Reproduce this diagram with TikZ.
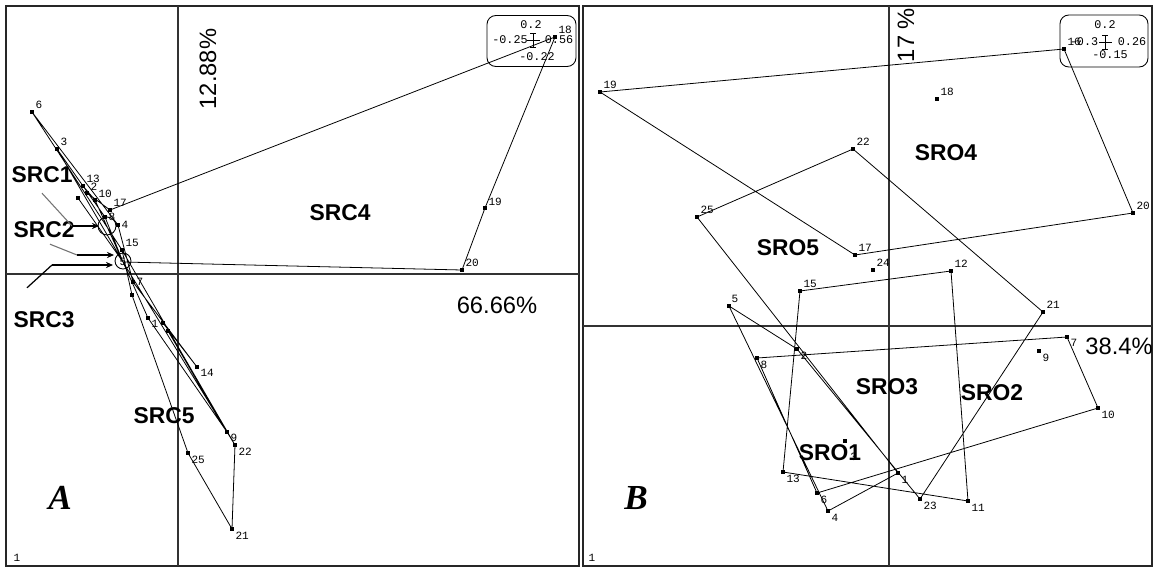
\documentclass[tikz,border=0pt]{standalone}
\usepackage{fontspec}
\setmainfont{Liberation Serif}
\setsansfont{Liberation Sans}
\setmonofont{Liberation Mono}
\usetikzlibrary{arrows.meta}
\newcommand\pnt[4]{\node[pt,label={[lab]#4:#3}] (#1) at (#2) {};}
\newcommand\pnq[2]{\node[pt] (#1) at (#2) {};}
\begin{document}
\begin{tikzpicture}[x=0.02cm,y=-0.02cm,
 pt/.style={rectangle,fill=black,inner sep=0pt,minimum size=1.8pt},
 lab/.style={font=\ttfamily\fontsize{6.3}{7}\selectfont,inner sep=0.7pt},
 edge/.style={line width=0.45pt,black},
 axis/.style={line width=0.6pt,black!80},
 frame/.style={line width=1.1pt,black!85},
 grp/.style={font=\sffamily\bfseries\fontsize{13}{15}\selectfont,inner sep=1pt},
 pct/.style={font=\sffamily\fontsize{13.5}{15}\selectfont,inner sep=0pt},
 plab/.style={font=\bfseries\itshape\fontsize{20}{22}\selectfont,inner sep=0pt},
 boxt/.style={font=\ttfamily\fontsize{6.7}{7}\selectfont,inner sep=0pt},
 legbox/.style={draw,line width=0.5pt,rounded corners=5pt,inner sep=0pt},
 leadg/.style={line width=0.6pt,black!55},
 leadk/.style={line width=0.7pt,black},
 tip/.style={-{Stealth[length=4pt,width=3.5pt]}}
]
\useasboundingbox (0,0) rectangle (1157,568);
\fill[white] (0,0) rectangle (1157,568);
% frames and axes
\draw[frame] (6,6) rectangle (579,566);
\draw[frame] (583,6) rectangle (1152,566);
\draw[axis] (178,6) -- (178,566);
\draw[axis] (6,274) -- (579,274);
\draw[axis] (889,6) -- (889,566);
\draw[axis] (583,326) -- (1152,326);

% ---------- Panel A ----------
\pnt{a6}{32,112}{6}{45}
\pnt{a3}{57,149}{3}{45}
\pnt{a13}{83,186}{13}{40}
\pnt{a2}{87,193}{2}{20}
\pnt{a10}{95,200}{10}{20}
\pnt{a17}{110,210}{17}{40}
\pnt{a8}{105,217}{8}{0}
\pnt{a4}{118,225}{4}{0}
\pnt{a15}{122,250}{15}{45}
\node[lab] (a5) at (123,262) {5};
\pnq{a24}{78,198}
\pnt{a7}{133,282}{7}{0}
\pnq{a12}{132,295}
\pnt{a1}{148,318}{1}{-20}
\pnq{a16}{163,323}
\pnq{a23}{168,331}
\pnt{a14}{197,367}{14}{-10}
\pnt{a9}{227,432}{9}{-20}
\pnt{a22}{235,445}{22}{-40}
\pnt{a25}{188,453}{25}{-40}
\pnt{a21}{232,529}{21}{-40}
\pnt{a20}{462,270}{20}{45}
\pnt{a19}{485,208}{19}{30}
\pnt{a18}{555,37}{18}{45}

\draw[edge] (a6)--(a15) (a6)--(a4) (a3)--(a5.center) (a13)--(a8) (a8)--(a5.center)
 (a2)--(a17) (a10)--(a5.center) (a24)--(a5.center) (a13)--(a10) (a3)--(a13)
 (a17)--(a18) (a5.center)--(a20) (a20)--(a19) (a19)--(a18)
 (a5.center)--(a9) (a15)--(a22) (a7)--(a14) (a1)--(a9) (a12)--(a25)
 (a16)--(a14) (a23)--(a9) (a25)--(a21) (a22)--(a21) (a9)--(a22) (a4)--(a7)
 (a15)--(a12) (a5.center)--(a1);
\draw[line width=0.5pt] (123,261) circle[radius=0.16cm];
\draw[line width=0.5pt] (107,226) circle[radius=0.18cm];

% legend box A
\node[legbox,minimum width=1.78cm,minimum height=1.02cm] (boxA) at (531.5,41) {};
\node[boxt] (bA1) at (531,25) {0.2};
\node[boxt] (bA2) at (510,40) {-0.25};
\node[boxt] (bA3) at (559,40) {0.56};
\node[boxt] (bA4) at (537,57) {-0.22};
\draw[line width=0.5pt] (527,40) -- (540,40) (533,33) -- (533,47) (530,33) -- (536,33) (530,47) -- (536,47);

% texts A
\node[pct,rotate=90] (pA1) at (208,69) {12.88\%};
\node[pct] (pA2) at (497,305) {66.66\%};
\node[grp] (src4) at (340,213) {SRC4};
\node[grp] (src5) at (164,416) {SRC5};
\node[grp] (src1) at (42,175) {SRC1};
\node[grp] (src2) at (44,230) {SRC2};
\node[grp] (src3) at (44,320) {SRC3};
\node[plab] (labA) at (60,498) {A};
\node[lab] (oneA) at (17,558) {1};

% leaders
\coordinate (c1a) at (72,226);
\coordinate (c1b) at (99,226);
\coordinate (c2a) at (77,255);
\coordinate (c2b) at (114,255);
\coordinate (c3a) at (52,265);
\coordinate (c3b) at (113,265);
\draw[leadg] ([shift={(0,8)}]src1.south) -- (c1a);
\draw[leadk,tip] (c1a) -- (c1b);
\draw[leadg] ([shift={(6,4)}]src2.south) -- (c2a);
\draw[leadk,tip] (c2a) -- (c2b);
\draw[leadk] ([shift={(-17,-22)}]src3.north) -- (c3a);
\draw[leadk,tip] (c3a) -- (c3b);

% ---------- Panel B ----------
\pnt{b19}{600,92}{19}{45}
\pnt{b22}{853,149}{22}{45}
\pnt{b25}{697,217}{25}{45}
\pnt{b17}{855,255}{17}{45}
\pnt{b24}{873,270}{24}{45}
\pnt{b18}{937,99}{18}{45}
\pnt{b16}{1064,49}{16}{45}
\pnt{b20}{1133,213}{20}{45}
\pnt{b15}{800,291}{15}{45}
\pnt{b12}{951,271}{12}{45}
\pnt{b21}{1043,312}{21}{45}
\pnt{b5}{729,306}{5}{60}
\pnt{b2}{797,349}{2}{-45}
\pnt{b8}{757,358}{8}{-45}
\pnt{b7}{1067,337}{7}{-30}
\pnt{b9}{1039,351}{9}{-45}
\pnt{b10}{1098,408}{10}{-30}
\pnt{b13}{783,472}{13}{-45}
\pnt{b6}{817,493}{6}{-45}
\pnt{b4}{828,511}{4}{-45}
\pnt{b1}{898,473}{1}{-45}
\pnt{b23}{920,499}{23}{-45}
\pnt{b11}{968,501}{11}{-45}
\node[pt,label={[lab,label distance=5pt]-70:3}] (b3) at (845,441) {};

\draw[edge] (b19)--(b16) (b16)--(b20) (b20)--(b17) (b17)--(b19)
 (b22)--(b25) (b25)--(b1) (b22)--(b21) (b21)--(b23) (b23)--(b2) (b2)--(b5) (b5)--(b4) (b4)--(b1)
 (b8)--(b7) (b7)--(b10) (b10)--(b6) (b6)--(b8)
 (b15)--(b12) (b12)--(b11) (b11)--(b13) (b13)--(b15);

% legend box B
\node[legbox,minimum width=1.76cm,minimum height=1.04cm] (boxB) at (1104,41) {};
\node[boxt] (bB1) at (1105,25) {0.2};
\node[boxt] (bB2) at (1084,42) {-0.3};
\node[boxt] (bB3) at (1132,42) {0.26};
\node[boxt] (bB4) at (1110,55) {-0.15};
\draw[line width=0.5pt] (1099,42) -- (1112,42) (1105,35) -- (1105,49) (1102,35) -- (1108,35) (1102,49) -- (1108,49);

% texts B
\node[pct,rotate=90] (pB1) at (906,35) {17 \%};
\node[pct] (pB2) at (1119,346) {38.4\%};
\node[grp] (sro4) at (946,153) {SRO4};
\node[grp] (sro5) at (788,248) {SRO5};
\node[grp] (sro3) at (887,387) {SRO3};
\node[grp] (sro2) at (992,393) {SRO2};
\node[grp] (sro1) at (830,453) {SRO1};
\node[plab] (labB) at (636,498) {B};
\node[lab] (oneB) at (592,558) {1};
\end{tikzpicture}
\end{document}
